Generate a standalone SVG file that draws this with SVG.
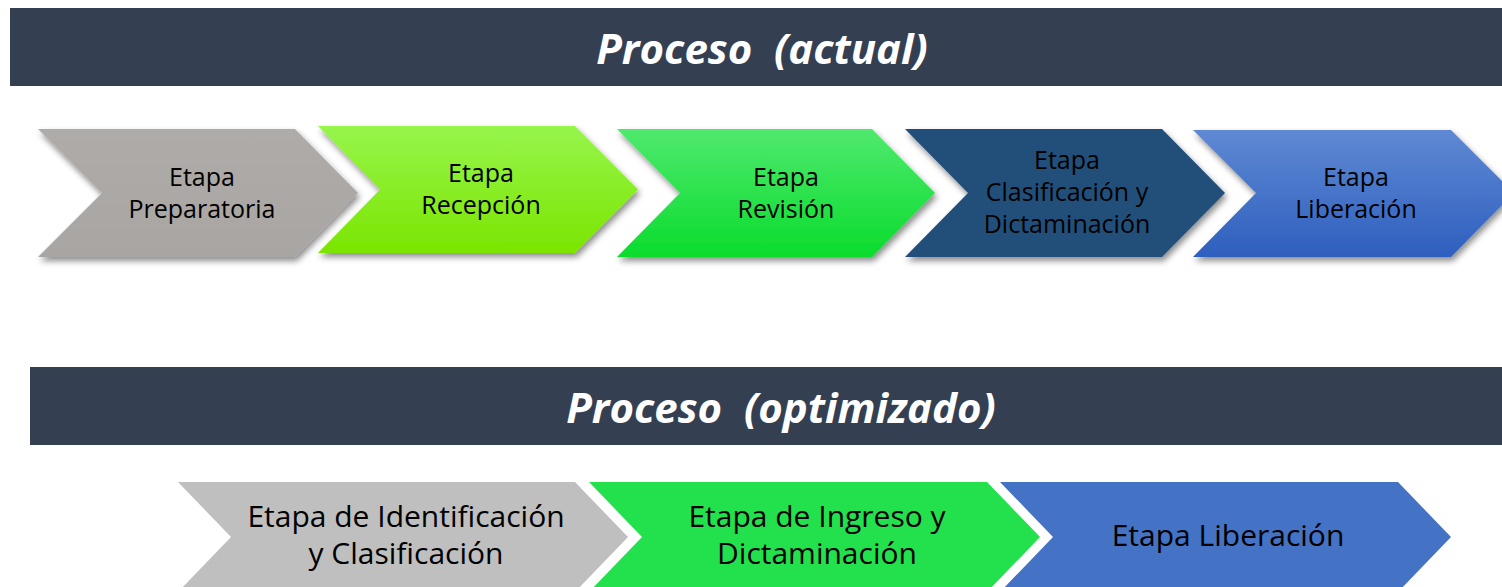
<svg xmlns="http://www.w3.org/2000/svg" width="1502" height="587" viewBox="0 0 1502 587">
<style>
.hdr{fill:#343F52}
.title{font-family:"Open Sans",sans-serif;font-weight:bold;font-style:italic;font-size:42px;fill:#FFFFFF;text-anchor:middle;white-space:pre}
.t1{font-family:"Open Sans",sans-serif;font-size:25px;fill:#000000;text-anchor:middle}
.t2{font-family:"Open Sans",sans-serif;font-size:30px;fill:#000000;text-anchor:middle}
</style>
<defs>
<filter id="sh" x="-10%" y="-20%" width="130%" height="150%">
<feDropShadow dx="2" dy="4" stdDeviation="3" flood-color="#000000" flood-opacity="0.45"/>
</filter>
<linearGradient id="gLime" x1="0" y1="0" x2="0" y2="1">
<stop offset="0" stop-color="#97F54C"/><stop offset="1" stop-color="#7BE500"/>
</linearGradient>
<linearGradient id="gGreen" x1="0" y1="0" x2="0" y2="1">
<stop offset="0" stop-color="#4FE96E"/><stop offset="1" stop-color="#0ADC2C"/>
</linearGradient>
<linearGradient id="gBlue" x1="0" y1="0" x2="0" y2="1">
<stop offset="0" stop-color="#5F89D3"/><stop offset="1" stop-color="#2E5FBE"/>
</linearGradient>
<linearGradient id="gGray" x1="0" y1="0" x2="0" y2="1">
<stop offset="0" stop-color="#AEABA9"/><stop offset="1" stop-color="#A9A5A3"/>
</linearGradient>
</defs>

<g id="header-actual">
<rect class="hdr" x="10" y="8" width="1492" height="78"/>
<text class="title" x="762" y="64" xml:space="preserve">Proceso  (actual)</text>
</g>

<g id="header-optimizado">
<rect class="hdr" x="30" y="367" width="1472" height="78"/>
<text class="title" x="781" y="423" xml:space="preserve">Proceso  (optimizado)</text>
</g>

<g id="a-preparatoria">
<polygon points="38,129 295,129 358,193 295,257 38,257 102,193" fill="url(#gGray)" filter="url(#sh)"/>
<text class="t1" x="202" y="186">Etapa</text>
<text class="t1" x="202" y="218">Preparatoria</text>
</g>

<g id="a-recepcion">
<polygon points="318,126 575,126 638,189.5 575,253 318,253 380,189.5" fill="url(#gLime)" filter="url(#sh)"/>
<text class="t1" x="481" y="182">Etapa</text>
<text class="t1" x="481" y="214">Recepción</text>
</g>

<g id="a-revision">
<polygon points="617,129 872,129 935,193 872,257 617,257 680,193" fill="url(#gGreen)" filter="url(#sh)"/>
<text class="t1" x="786" y="186">Etapa</text>
<text class="t1" x="786" y="218">Revisión</text>
</g>

<g id="a-clasificacion">
<polygon points="905,129 1162,129 1225,193 1162,257 905,257 968,193" fill="#204F7A" filter="url(#sh)"/>
<text class="t1" x="1067" y="169">Etapa</text>
<text class="t1" x="1067" y="201">Clasificación y</text>
<text class="t1" x="1067" y="233">Dictaminación</text>
</g>

<g id="a-liberacion">
<polygon points="1193,130 1451,130 1514,193 1451,257 1193,257 1256,193" fill="url(#gBlue)" filter="url(#sh)"/>
<text class="t1" x="1356" y="186">Etapa</text>
<text class="t1" x="1356" y="218">Liberación</text>
</g>

<g id="o-identificacion">
<polygon points="178,482 575,482 628,537 575,592 178,592 231,537" fill="#BFBFBF"/>
<text class="t2" x="406" y="527">Etapa de Identificación</text>
<text class="t2" x="406" y="564">y Clasificación</text>
</g>

<g id="o-ingreso">
<polygon points="589,482 987,482 1040,537 987,592 589,592 642,537" fill="#22E14C"/>
<text class="t2" x="817" y="527">Etapa de Ingreso y</text>
<text class="t2" x="817" y="564">Dictaminación</text>
</g>

<g id="o-liberacion">
<polygon points="1000,482 1398,482 1451,537 1398,592 1000,592 1053,537" fill="#4472C4"/>
<text class="t2" x="1228" y="546">Etapa Liberación</text>
</g>

<g id="connectors"></g>
</svg>
